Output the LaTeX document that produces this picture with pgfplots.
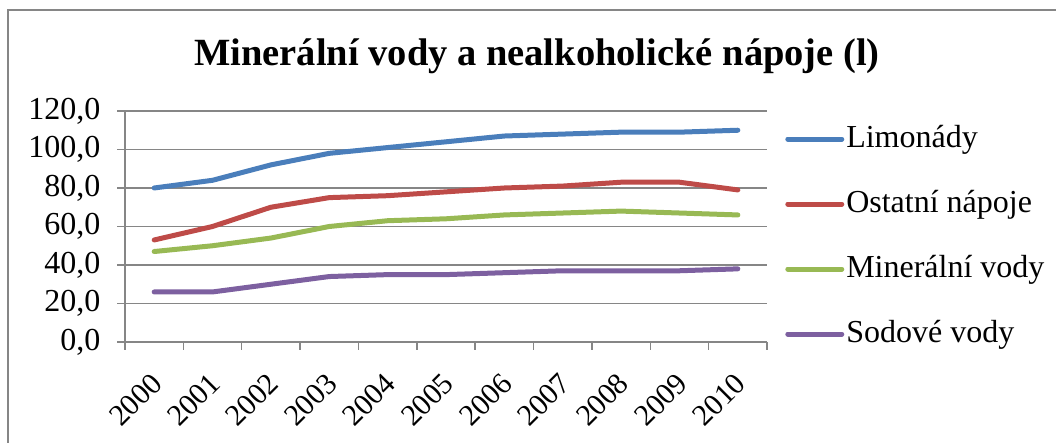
\documentclass[border=0pt]{standalone}
\usepackage{fontspec}
\setmainfont{Liberation Serif}
\usepackage{pgfplots}
\pgfplotsset{compat=1.18}
\definecolor{cblue}{HTML}{4A7EBB}
\definecolor{cred}{HTML}{BE4B48}
\definecolor{cgreen}{HTML}{98B954}
\definecolor{cpurple}{HTML}{7D60A0}
\definecolor{axgray}{HTML}{868686}
\begin{document}
\begin{tikzpicture}[x=1bp,y=1bp]
\useasboundingbox (0,0) rectangle (1056,443);
\draw[axgray, line width=1.5bp] (8,-20) -- (8,433) -- (1080,433);
\node[anchor=base, font=\bfseries\fontsize{38.5bp}{46bp}\selectfont] at (537,377) {Minerální vody a nealkoholické nápoje (l)};
\begin{axis}[
  at={(125bp,101bp)}, anchor=south west,
  scale only axis, width=642bp, height=231bp,
  xmin=-0.5, xmax=10.5, ymin=0, ymax=120,
  axis x line=bottom, axis y line=left,
  axis line style={-, axgray, line width=1.5bp},
  xtick={-0.5,0.5,...,10.5}, x tick label as interval,
  xticklabels={2000,2001,2002,2003,2004,2005,2006,2007,2008,2009,2010},
  ytick={0,20,...,120},
  ymajorgrids, grid style={axgray, line width=1.5bp},
  tick align=outside, major tick length=8bp,
  tick style={axgray, line width=1.5bp},
  yticklabel style={font=\fontsize{32bp}{38bp}\selectfont, xshift=-13bp},
  xticklabel style={font=\fontsize{30bp}{36bp}\selectfont, xshift=5bp, rotate=45, anchor=east},
  xticklabel shift=26bp,
  legend style={draw=none, fill=none, at={(1.0235,0.966)}, anchor=north west,
    font=\fontsize{32bp}{38bp}\selectfont, row sep=29bp,
    nodes={inner sep=2bp, text height=24bp, text depth=8bp},
    /tikz/every even column/.append style={column sep=1bp}},
  legend cell align=left,
  legend image code/.code={\draw[#1] (0bp,0bp) -- (54bp,0bp);},
  /pgf/number format/fixed, /pgf/number format/fixed zerofill,
  /pgf/number format/precision=1, /pgf/number format/use comma,
  /pgf/number format/assume math mode=true,
]
\addplot[cblue, line width=5bp, line join=round, line cap=round] coordinates {(0,80)(1,84)(2,92)(3,98)(4,101)(5,104)(6,107)(7,108)(8,109)(9,109)(10,110)};
\addlegendentry{Limonády}
\addplot[cred, line width=5bp, line join=round, line cap=round] coordinates {(0,53)(1,60)(2,70)(3,75)(4,76)(5,78)(6,80)(7,81)(8,83)(9,83)(10,79)};
\addlegendentry{Ostatní nápoje}
\addplot[cgreen, line width=5bp, line join=round, line cap=round] coordinates {(0,47)(1,50)(2,54)(3,60)(4,63)(5,64)(6,66)(7,67)(8,68)(9,67)(10,66)};
\addlegendentry{Minerální vody}
\addplot[cpurple, line width=5bp, line join=round, line cap=round] coordinates {(0,26)(1,26)(2,30)(3,34)(4,35)(5,35)(6,36)(7,37)(8,37)(9,37)(10,38)};
\addlegendentry{Sodové vody}
\end{axis}
\end{tikzpicture}
\end{document}
